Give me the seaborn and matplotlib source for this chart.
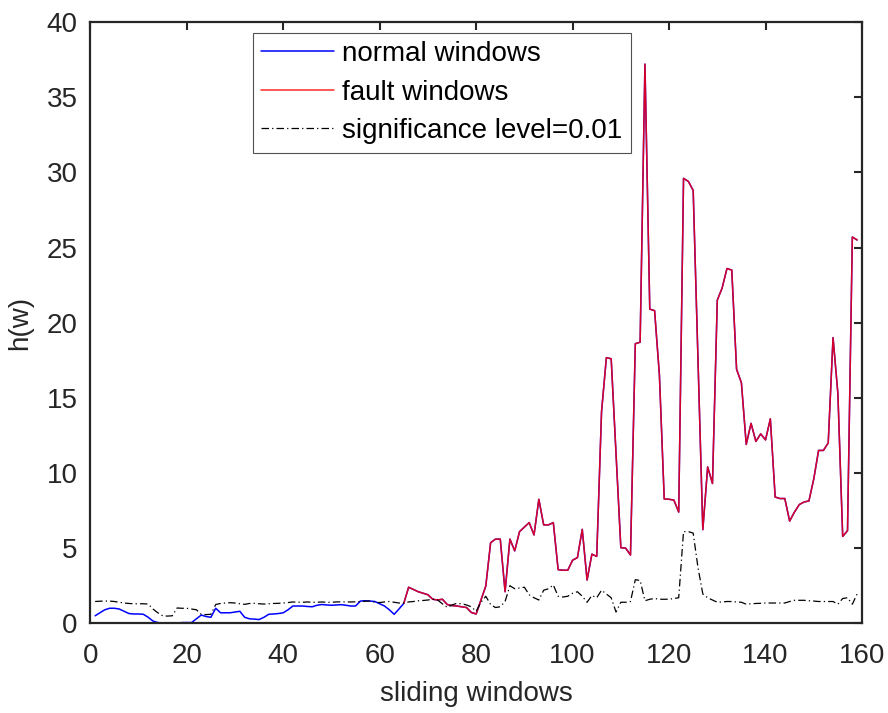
import numpy as np
import pandas as pd
import matplotlib
matplotlib.use("Agg")
import matplotlib.pyplot as plt
import seaborn as sns

# ---- data ----
normal_windows = list(range(1, 66))
normal_h = [0.5, 0.7, 0.9, 1.0, 1.0, 0.95, 0.8, 0.65, 0.62, 0.62,
            0.6, 0.4, 0.15, 0.05, 0.0, 0.0, 0.02, 0.0, 0.05, 0.05,
            0.05, 0.3, 0.55, 0.45, 0.4, 1.0, 0.7, 0.7, 0.7, 0.75,
            0.8, 0.4, 0.3, 0.28, 0.25, 0.4, 0.6, 0.62, 0.65, 0.7,
            0.9, 1.15, 1.15, 1.15, 1.12, 1.1, 1.2, 1.25, 1.22, 1.2,
            1.22, 1.24, 1.2, 1.15, 1.15, 1.48, 1.5, 1.48, 1.45, 1.3,
            1.15, 0.9, 0.6, 0.95, 1.33]

fault_windows = list(range(65, 160))
fault_h = [1.33, 2.4, 2.25, 2.1, 2.0, 1.9, 1.6, 1.55, 1.6, 1.25,
           1.18, 1.15, 1.1, 1.05, 0.72, 0.62, 1.55, 2.48, 5.36, 5.6,
           5.6, 2.1, 5.6, 4.82, 6.1, 6.4, 6.7, 5.88, 8.25, 6.55,
           6.55, 6.7, 3.57, 3.53, 3.53, 4.2, 4.37, 6.25, 2.88, 4.6,
           4.45, 14.08, 17.67, 17.6, 11.3, 5.03, 5.0, 4.54, 18.6, 18.7,
           37.2, 20.9, 20.8, 16.5, 8.27, 8.25, 8.2, 7.4, 29.6, 29.4,
           28.8, 17.5, 6.23, 10.4, 9.3, 21.5, 22.3, 23.6, 23.5, 16.9,
           16.0, 11.9, 13.3, 12.1, 12.6, 12.2, 13.6, 8.4, 8.3, 8.3,
           6.8, 7.4, 7.9, 8.07, 8.14, 9.6, 11.5, 11.5, 12.0, 19.0,
           15.3, 5.78, 6.16, 25.7, 25.5]

all_windows = list(range(1, 160))
threshold = [1.45, 1.47, 1.48, 1.48, 1.45, 1.4, 1.35, 1.32, 1.3, 1.3,
             1.3, 1.28, 0.95, 0.7, 0.5, 0.48, 0.5, 1.02, 1.0, 1.0,
             0.95, 0.9, 0.6, 0.58, 0.6, 1.25, 1.32, 1.35, 1.37, 1.35,
             1.3, 1.26, 1.32, 1.33, 1.3, 1.28, 1.3, 1.32, 1.33, 1.35,
             1.38, 1.42, 1.4, 1.4, 1.42, 1.4, 1.4, 1.42, 1.4, 1.4,
             1.42, 1.43, 1.42, 1.42, 1.43, 1.45, 1.47, 1.48, 1.4, 1.38,
             1.42, 1.45, 1.4, 1.35, 1.35, 1.42, 1.45, 1.5, 1.52, 1.55,
             1.6, 1.55, 1.3, 1.06, 1.22, 1.33, 1.3, 1.22, 1.1, 0.8,
             1.4, 1.8, 1.25, 1.05, 1.1, 1.45, 2.5, 2.3, 2.35, 2.4,
             1.9, 1.7, 1.55, 2.2, 2.3, 2.55, 1.8, 1.75, 1.8, 2.0,
             2.1, 1.8, 1.4, 1.85, 1.7, 2.2, 1.95, 1.7, 0.75, 1.4,
             1.4, 1.45, 2.9, 2.85, 1.5, 1.6, 1.65, 1.6, 1.6, 1.6,
             1.65, 1.7, 6.1, 6.1, 6.0, 3.7, 1.95, 1.7, 1.55, 1.4,
             1.42, 1.45, 1.45, 1.42, 1.4, 1.27, 1.3, 1.32, 1.33, 1.35,
             1.35, 1.35, 1.35, 1.35, 1.45, 1.53, 1.53, 1.53, 1.5, 1.48,
             1.45, 1.45, 1.45, 1.45, 1.27, 1.65, 1.7, 1.27, 1.96]

x_ticks = [0, 20, 40, 60, 80, 100, 120, 140, 160]
y_ticks = [0, 5, 10, 15, 20, 25, 30, 35, 40]

# full h(w) sequence (normal windows then fault windows)
full_w = normal_windows + fault_windows[1:]
full_h = normal_h + fault_h[1:]

sns.set_style("white")
plt.rcParams["font.family"] = ["Liberation Sans", "DejaVu Sans"]
TXT = "#262626"
FS = 20

fig = plt.figure(figsize=(8.88, 7.13), dpi=100)
ax = fig.add_axes([0.1017, 0.1258, 0.8690, 0.8433])

sns.lineplot(x=full_w, y=full_h, ax=ax, color="#0000ff", lw=1.1,
             label="normal windows", estimator=None, sort=False)
sns.lineplot(x=fault_windows, y=fault_h, ax=ax, color="#ff0000", lw=1.1,
             alpha=0.84, label="fault windows", estimator=None, sort=False)
sns.lineplot(x=all_windows, y=threshold, ax=ax, color="black", lw=0.9,
             label="significance level=0.01", estimator=None, sort=False)
ax.lines[-1].set_dashes([6, 2.5, 1, 2.5])

ax.set_xlim(0, 160)
ax.set_ylim(0, 40)
ax.set_xticks(x_ticks)
ax.set_yticks(y_ticks)
ax.tick_params(direction="in", length=6, width=1.5, colors=TXT,
               labelsize=FS, top=True, right=True, pad=9)
ax.tick_params(axis="x", pad=14)
for s in ax.spines.values():
    s.set_visible(True)
    s.set_linewidth(1.6)
    s.set_color(TXT)

ax.set_xlabel("sliding windows", fontsize=FS, color=TXT, labelpad=9)
ax.set_ylabel("h(w)", fontsize=FS, color=TXT, labelpad=10)

leg = ax.legend(loc="upper left", bbox_to_anchor=(0.211, 0.982),
                fontsize=FS, frameon=True, fancybox=False,
                handlelength=2.6, handletextpad=0.3, labelspacing=0.45,
                borderpad=0.3, borderaxespad=0.0)
leg.get_frame().set_edgecolor(TXT)
leg.get_frame().set_linewidth(0.8)
for t in leg.get_texts():
    t.set_color("black")

fig.savefig("out.png", dpi=100)
